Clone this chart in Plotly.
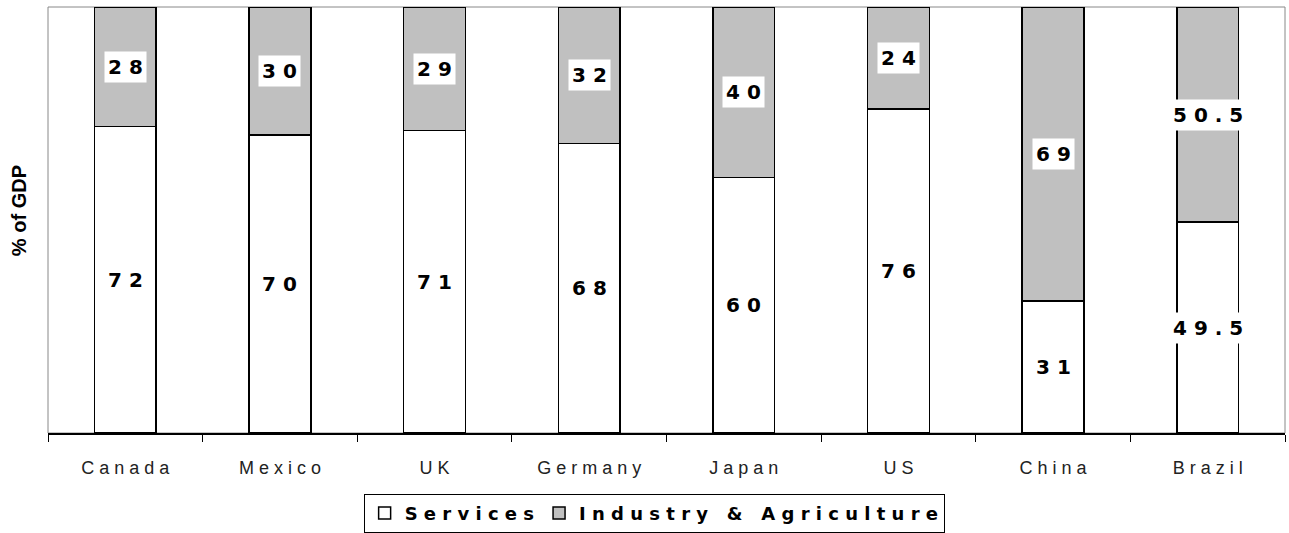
import plotly.graph_objects as go

# data
countries = ['Canada', 'Mexico', 'UK', 'Germany', 'Japan', 'US', 'China', 'Brazil']
services = [72, 70, 71, 68, 60, 76, 31, 49.5]
industry = [28, 30, 29, 32, 40, 24, 69, 50.5]


def spaced(s):
    # the original chart uses wide letter spacing
    return ' '.join(list(s))


cats = [spaced(c) for c in countries]

fig = go.Figure()
fig.add_trace(go.Bar(x=cats, y=services, name=spaced('Services'),
                     marker=dict(color='white', line=dict(color='black', width=1.5)),
                     width=0.4))
fig.add_trace(go.Bar(x=cats, y=industry, name=spaced('Industry & Agriculture'),
                     marker=dict(color='#C0C0C0', line=dict(color='black', width=1.5)),
                     width=0.4))

# value labels with white boxes
for c, s, i in zip(cats, services, industry):
    for txt, yy in [(s, s / 2), (i, s + i / 2)]:
        fig.add_annotation(x=c, y=yy, text=spaced('%g' % txt), showarrow=False,
                           bgcolor='white', borderpad=3,
                           font=dict(family='DejaVu Sans', size=20, color='black', weight='bold'))

# y title, sits a bit above the middle in the original
fig.add_annotation(xref='paper', yref='paper', x=-0.0235, y=0.523, text='% of GDP',
                   textangle=-90, showarrow=False, xanchor='center', yanchor='middle',
                   font=dict(family='Liberation Sans', size=20, color='black', weight='bold'))

# grey frame around the plot area
fig.add_shape(type='rect', xref='paper', yref='paper', x0=0, x1=1, y0=0, y1=1,
              line=dict(color='#888888', width=1), layer='below')

fig.update_layout(
    barmode='stack',
    width=1289, height=533,
    margin=dict(l=48, r=4, t=7, b=100, autoexpand=False),
    paper_bgcolor='white', plot_bgcolor='white',
    font=dict(family='Liberation Sans', color='black'),
    legend=dict(orientation='h', x=0.49, xanchor='center', y=-0.143, yanchor='top',
                traceorder='normal', bordercolor='black', borderwidth=1,
                itemwidth=30, font=dict(family='DejaVu Sans', size=18, weight='bold')),
    xaxis=dict(showline=True, linecolor='black', linewidth=1.5, ticks='outside',
               tickson='boundaries', ticklen=7, tickcolor='black',
               tickfont=dict(size=18, color='#222222'), ticklabelstandoff=18,
               range=[-0.5, 7.5]),
    yaxis=dict(range=[0, 100], showticklabels=False, showgrid=False, zeroline=False),
)

fig.write_html('out.html', config={'displayModeBar': False},
               post_script="document.body.style.margin='0';")
